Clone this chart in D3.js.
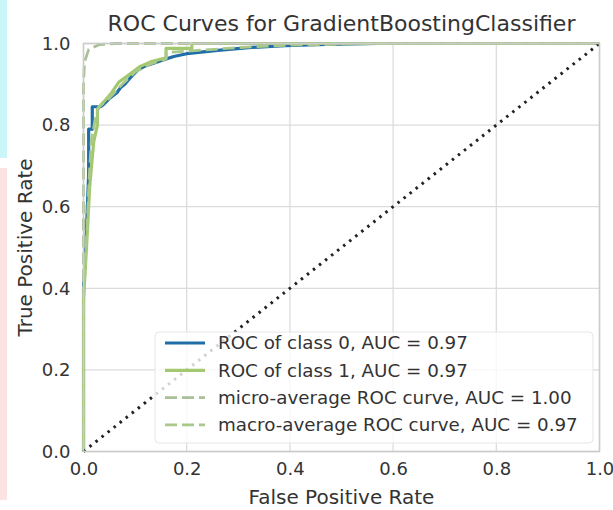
<!DOCTYPE html>
<html>
<head>
<meta charset="utf-8">
<script src="https://cdn.jsdelivr.net/npm/d3@7"></script>
<style>
  body { margin: 0; background: #fff; }
  text { font-family: "DejaVu Sans", sans-serif; fill: #333; }
</style>
</head>
<body>
<svg id="chart"></svg>
<script>
var width = 613;
var height = 510;

var margin = {
  top: 43.5,
  left: 83.5,
  right: 13.5,
  bottom: 58.5
};

// ROC of class 0 (false positive rate, true positive rate)
var class0 = [[0, 0], [0, 0.40], [0.006, 0.55], [0.01, 0.68], [0.01, 0.79], [0.017, 0.79],
  [0.017, 0.845], [0.033, 0.845], [0.04, 0.852], [0.05, 0.865], [0.065, 0.88], [0.072, 0.892],
  [0.08, 0.90], [0.095, 0.922], [0.105, 0.935], [0.12, 0.945], [0.15, 0.958], [0.175, 0.968],
  [0.2, 0.975], [0.26, 0.983], [0.32, 0.99], [0.39, 0.995], [0.47, 0.998], [0.57, 1.0], [1, 1]];

// ROC of class 1
var class1 = [[0, 0], [0, 0.37], [0.008, 0.55], [0.012, 0.65], [0.017, 0.72], [0.02, 0.76],
  [0.027, 0.80], [0.027, 0.84], [0.04, 0.858], [0.055, 0.88], [0.068, 0.905], [0.09, 0.925],
  [0.11, 0.944], [0.13, 0.955], [0.16, 0.965], [0.16, 0.988], [0.21, 0.988], [0.21, 1.0], [1, 1]];

// micro-average ROC curve
var micro = [[0, 0], [0, 0.90], [0.002, 0.955], [0.01, 0.985], [0.03, 0.997], [0.06, 1.0], [1, 1]];

// macro-average ROC curve
var macro = [[0, 0], [0, 0.38], [0.007, 0.55], [0.011, 0.67], [0.015, 0.76], [0.022, 0.81],
  [0.03, 0.845], [0.045, 0.86], [0.06, 0.88], [0.075, 0.90], [0.1, 0.93], [0.13, 0.95],
  [0.16, 0.962], [0.16, 0.978], [0.21, 0.982], [0.3, 0.99], [0.4, 0.996], [0.57, 1.0], [1, 1]];

var diagonal = [[0, 0], [1, 1]];

var ticks = [0, 0.2, 0.4, 0.6, 0.8, 1.0];

var legendLabels = ["ROC of class 0, AUC = 0.97",
                    "ROC of class 1, AUC = 0.97",
                    "micro-average ROC curve, AUC = 1.00",
                    "macro-average ROC curve, AUC = 0.97"];

var series = [
  {data: class0, color: "#1f6ea8", width: 3.2, dash: null},
  {data: class1, color: "#a3c870", width: 3.2, dash: null},
  {data: micro, color: "#a9bf96", width: 2.8, dash: "12,5"},
  {data: macro, color: "#a8c98a", width: 2.8, dash: "12,5"}
];

var svg = d3.select("#chart").attr("width", width).attr("height", height);

// faint coloured strip on the left edge of the picture
svg.append("rect").attr("x", 0).attr("y", 0).attr("width", 7).attr("height", 158).attr("fill", "#cbf6f9");
svg.append("rect").attr("x", 0).attr("y", 168).attr("width", 7).attr("height", 332).attr("fill", "#fde2e2");

var xScale = d3.scaleLinear()
.domain([0, 1])
.range([margin.left, width - margin.right]);

var yScale = d3.scaleLinear()
.domain([0, 1])
.range([height - margin.bottom, margin.top]);

// grid
svg.append("g")
.selectAll("line.v")
.data(ticks)
.enter()
.append("line")
.attr("x1", function(d) {return xScale(d);})
.attr("x2", function(d) {return xScale(d);})
.attr("y1", yScale(0))
.attr("y2", yScale(1))
.attr("stroke", "#dcdcdc")
.attr("stroke-width", 1.3);

svg.append("g")
.selectAll("line.h")
.data(ticks)
.enter()
.append("line")
.attr("y1", function(d) {return yScale(d);})
.attr("y2", function(d) {return yScale(d);})
.attr("x1", xScale(0))
.attr("x2", xScale(1))
.attr("stroke", "#dcdcdc")
.attr("stroke-width", 1.3);

// axes (labels only)
var xAxis = svg.append("g")
.attr("transform", `translate(0, ${height - margin.bottom})`)
.call(d3.axisBottom(xScale).tickValues(ticks).tickFormat(d3.format(".1f")).tickSize(0).tickPadding(11));

var yAxis = svg.append("g")
.attr("transform", `translate(${margin.left},0)`)
.call(d3.axisLeft(yScale).tickValues(ticks).tickFormat(d3.format(".1f")).tickSize(0).tickPadding(13));

svg.selectAll(".domain").remove();
svg.selectAll(".tick text").attr("font-size", 18).attr("font-family", "DejaVu Sans").attr("fill", "#333");

var line = d3.line()
.x(function(d) {return xScale(d[0]);})
.y(function(d) {return yScale(d[1]);});

svg.append("clipPath").attr("id", "plotclip")
.append("rect")
.attr("x", xScale(0) - 2).attr("y", yScale(1) - 2)
.attr("width", xScale(1) - xScale(0) + 4).attr("height", yScale(0) - yScale(1) + 4);

var curves = svg.append("g").attr("clip-path", "url(#plotclip)");

curves.selectAll("path.roc")
.data(series)
.enter()
.append("path")
.attr("d", function(d) {return line(d.data);})
.attr("fill", "none")
.attr("stroke", function(d) {return d.color;})
.attr("stroke-width", function(d) {return d.width;})
.attr("stroke-dasharray", function(d) {return d.dash;})
.attr("stroke-linejoin", "round");

curves.append("path")
.attr("d", line(diagonal))
.attr("fill", "none")
.attr("stroke", "#222")
.attr("stroke-width", 3)
.attr("stroke-dasharray", "2.5,5.2");

// frame
svg.append("rect")
.attr("x", xScale(0))
.attr("y", yScale(1))
.attr("width", xScale(1) - xScale(0))
.attr("height", yScale(0) - yScale(1))
.attr("fill", "none")
.attr("stroke", "#cccccc")
.attr("stroke-width", 1.5);

// legend
var legend = svg.append("g").attr("transform", "translate(155, 332)");

legend.append("rect")
.attr("width", 438)
.attr("height", 111)
.attr("rx", 4)
.attr("fill", "#fff")
.attr("fill-opacity", 0.8)
.attr("stroke", "#e6e6e6")
.attr("stroke-width", 1);

var items = legend.selectAll("g.item")
.data(series)
.enter()
.append("g")
.attr("transform", function(d, i) {return `translate(10, ${11 + i * 27.3})`;});

items.append("line")
.attr("x1", 0)
.attr("x2", 40)
.attr("stroke", function(d) {return d.color;})
.attr("stroke-width", function(d) {return d.width;})
.attr("stroke-dasharray", function(d) {return d.dash;});

items.append("text")
.attr("x", 53)
.attr("dy", "0.35em")
.attr("font-size", 18.3)
.text(function(d, i) {return legendLabels[i];});

// titles
svg.append("text")
.attr("x", (xScale(0) + xScale(1)) / 2)
.attr("y", 31)
.attr("text-anchor", "middle")
.attr("font-size", 22)
.text("ROC Curves for GradientBoostingClassifier");

svg.append("text")
.attr("x", (xScale(0) + xScale(1)) / 2)
.attr("y", 504)
.attr("text-anchor", "middle")
.attr("font-size", 20)
.text("False Positive Rate");

svg.append("text")
.attr("transform", `translate(32, ${(yScale(0) + yScale(1)) / 2}) rotate(-90)`)
.attr("text-anchor", "middle")
.attr("font-size", 20)
.text("True Positive Rate");
</script>
</body>
</html>
